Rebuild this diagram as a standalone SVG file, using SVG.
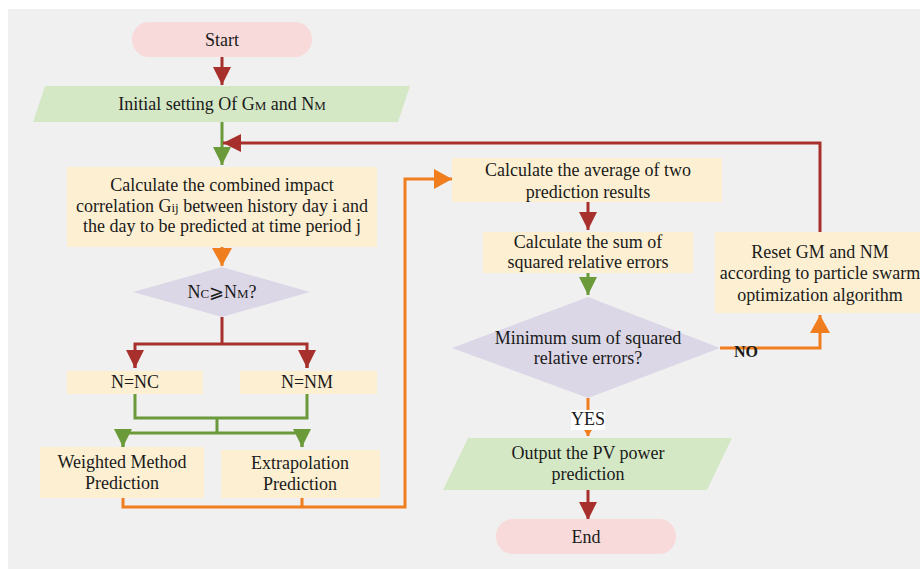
<svg xmlns="http://www.w3.org/2000/svg" width="920" height="569" viewBox="0 0 920 569">
<defs>
<style>
.t{font-family:'Liberation Serif','Times New Roman',serif;font-size:18px;fill:#1a1a1a;text-anchor:middle}
.term{fill:#f8dada}
.proc{fill:#fdf0d2}
.io{fill:#d5e8c6}
.dec{fill:#dcd7e7}
.r{stroke:#a8302c;stroke-width:3;fill:none}
.g{stroke:#6b9a3a;stroke-width:3;fill:none}
.o{stroke:#f07d1e;stroke-width:3;fill:none}
</style>
<marker id="ar" markerUnits="userSpaceOnUse" markerWidth="18" markerHeight="18" refX="18" refY="9" orient="auto"><path d="M0,0L18,9L0,18z" fill="#a8302c"/></marker>
<marker id="ag" markerUnits="userSpaceOnUse" markerWidth="18" markerHeight="18" refX="18" refY="9" orient="auto"><path d="M0,0L18,9L0,18z" fill="#6b9a3a"/></marker>
<marker id="ao" markerUnits="userSpaceOnUse" markerWidth="18" markerHeight="20" refX="18" refY="10" orient="auto"><path d="M0,0L18,10L0,20z" fill="#f07d1e"/></marker>
<marker id="aos" markerUnits="userSpaceOnUse" markerWidth="6" markerHeight="8" refX="6" refY="4" orient="auto"><path d="M0,0L6,4L0,8z" fill="#f07d1e"/></marker>
</defs>
<rect x="0" y="0" width="920" height="569" fill="#ffffff"/>
<rect x="8" y="9" width="912" height="560" fill="#f0f0f0"/>

<g id="connectors">
<path class="r" d="M222,57V85" marker-end="url(#ar)"/>
<path class="g" d="M222,122V165" marker-end="url(#ag)"/>
<path class="r" d="M820,232V143H223" marker-end="url(#ar)"/>
<path class="o" d="M222,247V266" marker-end="url(#ao)"/>
<path class="r" d="M222,317V344"/>
<path class="r" d="M135,368V344H307V368"/>
<path class="r" d="M135,355V368" marker-end="url(#ar)"/>
<path class="r" d="M307,355V368" marker-end="url(#ar)"/>
<path class="g" d="M135,394V418H307V394"/>
<path class="g" d="M217,418V433"/>
<path class="g" d="M123,447V433H302V447"/>
<path class="g" d="M123,438V447" marker-end="url(#ag)"/>
<path class="g" d="M302,438V447" marker-end="url(#ag)"/>
<path class="o" d="M123,498V507H405V179H452" marker-end="url(#ao)"/>
<path class="o" d="M302,498V507"/>
<path class="r" d="M588,202V230" marker-end="url(#ar)"/>
<path class="g" d="M588,273V295" marker-end="url(#ag)"/>
<path class="o" d="M720,348H820V315" marker-end="url(#ao)"/>
<path class="o" d="M588,398V436" stroke-width="2.5" marker-end="url(#aos)"/>
<path class="r" d="M588,490V520" marker-end="url(#ar)"/>
<rect x="571" y="410" width="34" height="20" fill="#ffffff"/>
<text class="t" x="588" y="425">YES</text>
<text class="t" x="746" y="357" style="font-weight:bold;font-size:16px">NO</text>
</g>

<g id="start">
<rect class="term" x="132" y="22" width="180" height="35" rx="17"/>
<text class="t" x="222" y="46">Start</text>
</g>
<g id="init">
<polygon class="io" points="45,86 410,86 398,122 33,122"/>
<text class="t" x="222" y="110">Initial setting Of G<tspan font-size="13">M</tspan> and N<tspan font-size="13">M</tspan></text>
</g>
<g id="calc-corr">
<rect class="proc" x="67" y="167" width="310" height="80"/>
<text class="t" x="222" y="191">Calculate the combined impact</text>
<text class="t" x="222" y="212">correlation G<tspan font-size="13">ij</tspan> between history day i and</text>
<text class="t" x="222" y="232">the day to be predicted at time period j</text>
</g>
<g id="dec-n">
<polygon class="dec" points="222,267 310,292 222,317 133,292"/>
<text class="t" x="222" y="298">N<tspan font-size="13">C</tspan>⩾N<tspan font-size="13">M</tspan>?</text>
</g>
<g id="n-nc">
<rect class="proc" x="67" y="371" width="136" height="23"/>
<text class="t" x="135" y="388">N=NC</text>
</g>
<g id="n-nm">
<rect class="proc" x="240" y="371" width="137" height="23"/>
<text class="t" x="307" y="388">N=NM</text>
</g>
<g id="weighted">
<rect class="proc" x="40" y="447" width="164" height="51"/>
<text class="t" x="122" y="468">Weighted Method</text>
<text class="t" x="122" y="489">Prediction</text>
</g>
<g id="extrap">
<rect class="proc" x="221" y="450" width="159" height="48"/>
<text class="t" x="300" y="469">Extrapolation</text>
<text class="t" x="300" y="490">Prediction</text>
</g>
<g id="average">
<rect class="proc" x="452" y="158" width="270" height="44"/>
<text class="t" x="588" y="176">Calculate the average of two</text>
<text class="t" x="588" y="198">prediction results</text>
</g>
<g id="sum">
<rect class="proc" x="483" y="232" width="210" height="41"/>
<text class="t" x="588" y="248">Calculate the sum of</text>
<text class="t" x="588" y="268">squared relative errors</text>
</g>
<g id="dec-min">
<polygon class="dec" points="588,297 720,348 588,398 452,348"/>
<text class="t" x="588" y="344">Minimum sum of squared</text>
<text class="t" x="588" y="364">relative errors?</text>
</g>
<g id="reset">
<rect class="proc" x="715" y="232" width="205" height="81"/>
<text class="t" x="820" y="258">Reset GM and NM</text>
<text class="t" x="820" y="279">according to particle swarm</text>
<text class="t" x="820" y="301">optimization algorithm</text>
</g>
<g id="output">
<polygon class="io" points="468,438 732,438 707,490 443,490"/>
<text class="t" x="588" y="459">Output the PV power</text>
<text class="t" x="588" y="480">prediction</text>
</g>
<g id="end">
<rect class="term" x="496" y="519" width="180" height="35" rx="17"/>
<text class="t" x="586" y="543">End</text>
</g>
</svg>
